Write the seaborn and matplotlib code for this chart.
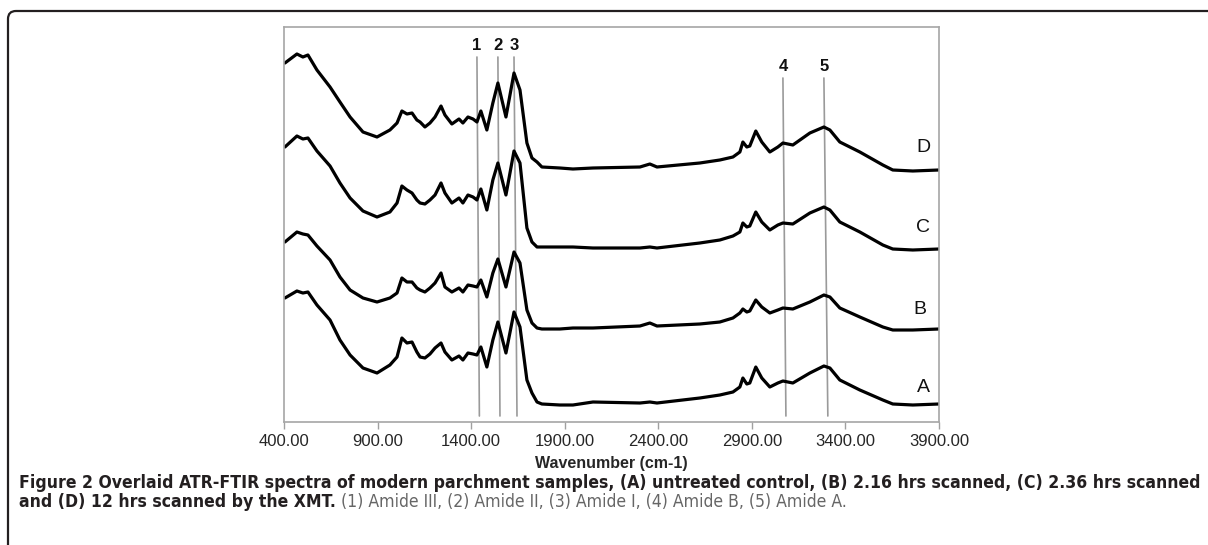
import numpy as np
import pandas as pd
import matplotlib
matplotlib.use("Agg")
import matplotlib.pyplot as plt
import seaborn as sns
from matplotlib.path import Path
from matplotlib.patches import PathPatch
from matplotlib.transforms import IdentityTransform

# wavenumber grid (cm-1)
wavenumber = [405, 469, 501, 528, 576, 646, 699, 753, 822, 897, 966, 1004, 1030, 1057,
              1084, 1110, 1127, 1153, 1180, 1207, 1239, 1260, 1297, 1335, 1356, 1383,
              1410, 1431, 1452, 1484, 1516, 1543, 1586, 1629, 1661, 1698, 1725, 1752,
              1778, 1874, 1944, 2051, 2302, 2355, 2393, 2622, 2729, 2799, 2836, 2852,
              2873, 2889, 2921, 2953, 2996, 3039, 3066, 3119, 3210, 3285, 3317, 3370,
              3477, 3600, 3653, 3760, 3900]

# offset absorbance (arbitrary units) for each sample
absorb_a = [124, 131, 129, 130, 117, 102, 82, 67, 54, 49, 57, 65, 84, 79,
            80, 70, 65, 64, 68, 74, 79, 70, 62, 66, 62, 69,
            68, 67, 75, 55, 82, 100, 69, 110, 95, 42, 29, 20,
            18, 17, 17, 20, 19, 20, 19, 24, 27, 30, 35, 44,
            38, 39, 55, 44, 35, 39, 41, 39, 49, 56, 54, 42,
            32, 22, 18, 17, 18]
absorb_b = [180, 190, 188, 187, 176, 162, 145, 132, 124, 120, 124, 129, 144, 140,
            140, 134, 132, 130, 134, 139, 149, 135, 130, 134, 130, 137,
            136, 135, 142, 125, 149, 163, 135, 170, 159, 112, 99, 94,
            93, 93, 94, 94, 96, 99, 96, 98, 100, 104, 109, 113,
            110, 111, 122, 115, 109, 112, 114, 113, 120, 127, 125, 114,
            105, 95, 92, 92, 93]
absorb_c = [275, 286, 283, 284, 271, 256, 239, 224, 211, 205, 210, 219, 236, 232,
            229, 222, 219, 218, 222, 227, 239, 229, 219, 224, 219, 227,
            225, 222, 233, 212, 242, 259, 227, 271, 259, 194, 180, 175,
            175, 175, 175, 174, 174, 175, 174, 179, 182, 186, 190, 199,
            195, 196, 210, 200, 192, 197, 199, 198, 209, 215, 212, 200,
            190, 177, 173, 172, 173]
absorb_d = [359, 368, 365, 367, 352, 335, 320, 305, 290, 285, 292, 299, 311, 308,
            309, 302, 300, 295, 299, 305, 316, 307, 298, 303, 299, 305,
            303, 300, 311, 292, 319, 339, 305, 349, 332, 279, 264, 260,
            255, 254, 253, 254, 255, 258, 255, 259, 262, 265, 270, 280,
            275, 276, 291, 280, 270, 275, 279, 277, 289, 295, 292, 280,
            270, 257, 252, 251, 252]

samples = ["A", "B", "C", "D"]

# amide band markers
band_numbers = ["1", "2", "3", "4", "5"]
band_wn_top = [1431, 1543, 1629, 3066, 3285]
band_wn_bottom = [1444, 1554, 1645, 3082, 3306]

x_ticks = [400, 900, 1400, 1900, 2400, 2900, 3400, 3900]

caption_bold_1 = ("Figure 2 Overlaid ATR-FTIR spectra of modern parchment samples, (A) untreated "
                  "control, (B) 2.16 hrs scanned, (C) 2.36 hrs scanned")
caption_bold_2 = "and (D) 12 hrs scanned by the XMT."
caption_rest = "(1) Amide III, (2) Amide II, (3) Amide I, (4) Amide B, (5) Amide A."

df = pd.DataFrame({
    "wavenumber": wavenumber * 4,
    "absorbance": absorb_a + absorb_b + absorb_c + absorb_d,
    "sample": np.repeat(samples, len(wavenumber)),
})

sns.set_style("white")
plt.rcParams["font.family"] = ["Liberation Sans", "DejaVu Sans"]
arial = ["Liberation Sans", "DejaVu Sans"]

fig = plt.figure(figsize=(12.08, 5.45), dpi=100)
ax = fig.add_axes([284 / 1208, 123 / 545, 655 / 1208, 395 / 545])

sns.lineplot(data=df, x="wavenumber", y="absorbance", hue="sample",
             palette=["black"] * 4, legend=False, lw=2.3, sort=False,
             estimator=None, ax=ax)

for num, wt, wb in zip(band_numbers, band_wn_top, band_wn_bottom):
    top = 365 if num in "123" else 344
    ax.plot([wt, wb], [top, 6], color="#9a9a9a", lw=1.2, zorder=1)
    ax.text(wt, top + 4, num, ha="center", va="bottom", fontsize=12,
            fontweight="bold", color="#111111", family=arial)

label_pos = {"D": (3815, 275), "C": (3815, 194), "B": (3800, 112), "A": (3815, 35)}
for s in samples:
    lx, ly = label_pos[s]
    ax.text(lx, ly, s, ha="center", va="center", fontsize=14, color="#111111",
            family=arial)

ax.set_xlim(400, 3900)
ax.set_ylim(0, 395)
ax.set_xticks(x_ticks)
ax.set_xticklabels([f"{t:.2f}" for t in x_ticks], fontsize=12, family=arial)
ax.set_yticks([])
ax.set_ylabel("")
ax.set_xlabel("Wavenumber (cm-1)", fontsize=11.5, fontweight="bold", labelpad=5,
              family=arial)
ax.tick_params(axis="x", direction="out", length=5, width=1, color="#a0a0a0",
               bottom=True, pad=4)
for sp in ax.spines.values():
    sp.set_color("#a6a6a6")
    sp.set_linewidth(1.2)

# frame around the figure (top + left with rounded corner)
verts = [(1210, 534), (16, 534), (8, 534), (8, 526), (8, -5)]
codes = [Path.MOVETO, Path.LINETO, Path.CURVE3, Path.CURVE3, Path.LINETO]
fig.patches.append(PathPatch(Path(verts, codes), transform=IdentityTransform(),
                             fill=False, lw=1.6, edgecolor="#231f20"))

# caption: condensed face, sized so the first line spans the page like the original
cap_kw = dict(family="DejaVu Sans", fontstretch="condensed", va="center")
t1 = fig.text(19 / 1208, 1 - 483 / 545, caption_bold_1, fontsize=12, fontweight="bold",
              color="#231f20", **cap_kw)
fig.canvas.draw()
w = t1.get_window_extent().width
cap_size = 12 * (1176 / w)
t1.set_fontsize(cap_size)
t2 = fig.text(19 / 1208, 1 - 502 / 545, caption_bold_2, fontsize=cap_size,
              fontweight="bold", color="#231f20", **cap_kw)
fig.canvas.draw()
bb = t2.get_window_extent()
fig.text((bb.x1 + 5) / 1208, 1 - 502 / 545, caption_rest, fontsize=cap_size,
         color="#666666", **cap_kw)

fig.savefig("out.png", dpi=100)
